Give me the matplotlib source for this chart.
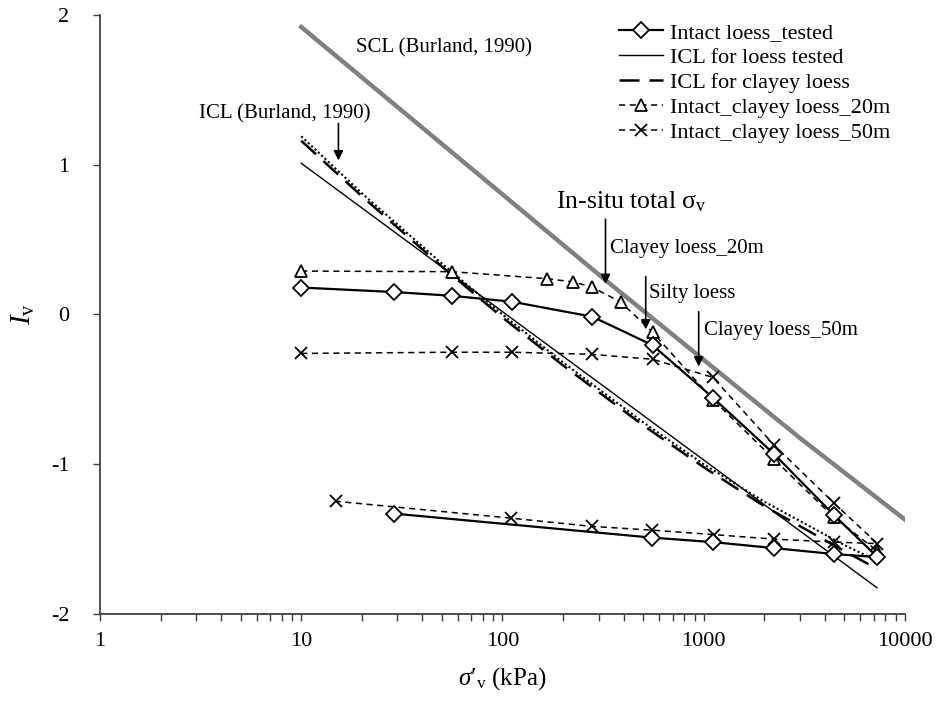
import matplotlib
matplotlib.use("Agg")
import matplotlib.pyplot as plt
from matplotlib.ticker import LogLocator, FixedLocator, NullFormatter

plt.rcParams['font.family'] = ['Liberation Serif', 'DejaVu Serif']
plt.rcParams['mathtext.fontset'] = 'custom'
plt.rcParams['mathtext.rm'] = 'Liberation Serif'
plt.rcParams['mathtext.it'] = 'Liberation Serif:italic'
plt.rcParams['axes.unicode_minus'] = False

# ---- data ----
intact_x = [10, 29, 56, 112, 280, 557, 1110, 2230, 4440, 7300, 4440, 2230, 1110, 551, 29]
intact_y = [0.18, 0.15, 0.125, 0.085, -0.015, -0.205, -0.555, -0.93, -1.34, -1.62, -1.60, -1.56, -1.52, -1.49, -1.33]

icl_tested_x = [10, 7260]
icl_tested_y = [1.01, -1.825]

icl_clayey_x = [10, 20, 50, 100, 200, 500, 1000, 2000, 5000, 7300]
icl_clayey_y = [1.16, 0.79, 0.32, -0.02, -0.34, -0.74, -1.02, -1.28, -1.58, -1.70]

icl_burland_x = [10, 20, 50, 100, 200, 500, 1000, 2000, 5000, 7400]
icl_burland_y = [1.19, 0.81, 0.34, 0.0, -0.32, -0.72, -1.0, -1.25, -1.54, -1.65]

scl_x = [10, 45, 318, 3040, 10000]
scl_y = [1.92, 1.19, 0.24, -0.83, -1.37]

c20_x = [10, 56, 167, 223, 277, 386, 557, 1110, 2230, 4440, 7300]
c20_y = [0.29, 0.286, 0.239, 0.218, 0.185, 0.084, -0.118, -0.568, -0.965, -1.355, -1.58]

c50_x = [10, 56, 112, 277, 557, 1110, 2230, 4440, 7300, 4440, 2230, 1120, 551, 277, 110, 14.8]
c50_y = [-0.26, -0.252, -0.252, -0.266, -0.299, -0.42, -0.87, -1.26, -1.53, -1.52, -1.50, -1.47, -1.44, -1.415, -1.36, -1.247]

xticks = [1, 10, 100, 1000, 10000]
xticklabels = ['1', '10', '100', '1000', '10000']
yticks = [-2, -1, 0, 1, 2]

# ---- figure ----
fig = plt.figure(figsize=(9.41, 7.02), dpi=100)
ax = fig.add_axes([0.1063, 0.1254, 0.8554, 0.8532])

ax.plot(scl_x, scl_y, color='#808080', lw=3.2, zorder=1)
ax.plot(icl_burland_x, icl_burland_y, color='black', lw=1.5, ls=(0, (1, 1.2)), zorder=2)

l1, = ax.plot(intact_x, intact_y, color='black', lw=1.6, marker='D', ms=8.5,
              mfc='white', mec='black', mew=1.3, zorder=5, label='Intact loess_tested')
l2, = ax.plot(icl_tested_x, icl_tested_y, color='black', lw=1.0, zorder=3,
              label='ICL for loess tested')
l3, = ax.plot(icl_clayey_x, icl_clayey_y, color='black', lw=1.8, ls=(0, (8, 4)), zorder=3,
              label='ICL for clayey loess')
l4, = ax.plot(c20_x, c20_y, color='black', lw=1.1, ls=(0, (4, 3)), marker='^', ms=9,
              mfc='white', mec='black', mew=1.3, zorder=4, label='Intact_clayey loess_20m')
l5, = ax.plot(c50_x, c50_y, color='black', lw=1.1, ls=(0, (4, 3)), marker='x', ms=9,
              mec='black', mew=1.3, zorder=4, label='Intact_clayey loess_50m')

ax.set_xscale('log')
ax.set_xlim(1, 10000)
ax.set_ylim(-2, 2)
ax.xaxis.set_major_locator(FixedLocator(xticks))
ax.set_xticklabels(xticklabels)
ax.xaxis.set_minor_locator(LogLocator(base=10, subs=range(2, 10)))
ax.xaxis.set_minor_formatter(NullFormatter())
ax.set_yticks(yticks)
ax.set_yticklabels([str(v) for v in yticks])

for s in ['top', 'right']:
    ax.spines[s].set_visible(False)
ax.spines['left'].set_color('#404040')
ax.spines['bottom'].set_color('#404040')
ax.spines['left'].set_linewidth(1.3)
ax.spines['bottom'].set_linewidth(1.3)
ax.tick_params(axis='both', which='major', direction='out', length=5, width=1, labelsize=16, color='#404040')
ax.tick_params(axis='x', which='minor', direction='out', length=5, width=1, color='#404040')
ax.tick_params(axis='x', pad=8)
ax.tick_params(axis='y', pad=17)

ax.set_xlabel("$\\mathit{\u03c3\u2032}_{\\mathrm{v}}$ (kPa)", fontsize=18, labelpad=10)
ax.set_ylabel(r"$\mathit{I}_{\mathrm{v}}$", fontsize=21, labelpad=10)

leg = ax.legend(handles=[l1, l2, l3, l4, l5], loc='upper left',
                bbox_to_anchor=(0.648, 0.981), bbox_transform=fig.transFigure,
                frameon=False, fontsize=16, handlelength=2.0, handletextpad=0.3,
                labelspacing=0.2, borderaxespad=0)

# annotations
ann_fs = 15
ax.text(18.8, 1.78, 'SCL (Burland, 1990)', fontsize=ann_fs, ha='left', va='center')
ax.text(8.3, 1.34, 'ICL (Burland, 1990)', fontsize=ann_fs, ha='center', va='center')
ax.annotate('', xy=(15.3, 1.01), xytext=(15.3, 1.294),
            arrowprops=dict(arrowstyle='-|>', color='black', lw=1.2, mutation_scale=14))

ax.text(438, 0.75, r'In-situ total $\mathrm{\sigma_v}$', fontsize=18.5, ha='center', va='center')
ax.annotate('', xy=(325, 0.185), xytext=(325, 0.655),
            arrowprops=dict(arrowstyle='-|>', color='black', lw=1.2, mutation_scale=14))
ax.text(341, 0.44, 'Clayey loess_20m', fontsize=ann_fs, ha='left', va='center')
ax.annotate('', xy=(515, -0.118), xytext=(515, 0.272),
            arrowprops=dict(arrowstyle='-|>', color='black', lw=1.2, mutation_scale=14))
ax.text(532, 0.137, 'Silty loess', fontsize=ann_fs, ha='left', va='center')
ax.annotate('', xy=(944, -0.366), xytext=(944, 0.037),
            arrowprops=dict(arrowstyle='-|>', color='black', lw=1.2, mutation_scale=14))
ax.text(1000, -0.11, 'Clayey loess_50m', fontsize=ann_fs, ha='left', va='center')

fig.savefig('out.png', dpi=100)
